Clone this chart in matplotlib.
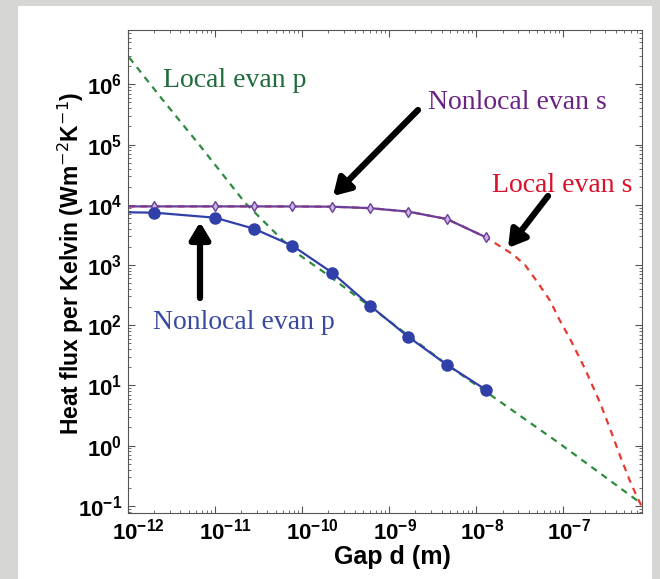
import numpy as np
import matplotlib.pyplot as plt
from matplotlib.patches import Rectangle
from matplotlib.transforms import ScaledTranslation

W, H = 660, 579

# gap positions (m) of the computed nonlocal points (first one is the axis edge, no marker)
gap_pts = [1.0e-12, 2.0e-12, 1.0e-11, 2.8e-11, 7.7e-11, 2.2e-10, 6.0e-10, 1.66e-9, 4.6e-9, 1.3e-8]

# nonlocal evanescent p (blue circles)
nonlocal_p = [7500, 7400, 6100, 4000, 2100, 750, 212, 64, 22, 8.4]
# nonlocal evanescent s (purple diamonds)
nonlocal_s = [9400, 9400, 9400, 9400, 9380, 9300, 8800, 7700, 5800, 2870]

# local evanescent s (red dashed), continues beyond the nonlocal points
local_s_x = [1.0e-12, 2.0e-12, 1.0e-11, 2.8e-11, 7.7e-11, 2.2e-10, 6.0e-10, 1.66e-9, 4.6e-9,
             1.3e-8, 1.87e-8, 2.64e-8, 3.63e-8, 4.98e-8, 7.03e-8, 9.14e-8, 1.19e-7, 1.77e-7,
             2.64e-7, 3.44e-7, 4.48e-7, 5.82e-7, 7.02e-7, 8.0e-7]
local_s = [9400, 9400, 9400, 9400, 9380, 9300, 8800, 7700, 5800,
           2870, 2050, 1500, 1000, 531, 256, 119, 59.8, 18.9,
           5.14, 1.9, 0.675, 0.259, 0.140, 0.0957]

# local evanescent p (green dashed)
local_p_x = [1.03e-12, 2.52e-12, 6.71e-12, 2.21e-11, 7.86e-11, 2.09e-10, 6.01e-10,
             4.61e-9, 1.56e-8, 9.16e-8, 8.0e-7]
local_p = [2.8e6, 5.47e5, 9.6e4, 1.08e4, 1740, 643, 204, 22.1, 6.47, 1.07, 0.107]


def fpx(x, y):
    # reference pixel (from top-left) -> figure fraction
    return x / W, 1 - y / H


fig = plt.figure(figsize=(W / 100, H / 100), dpi=100, facecolor="#d6d6d4")
fig.add_artist(Rectangle((18 / W, 0), 634 / W, 573 / H, transform=fig.transFigure,
                         facecolor="white", edgecolor="none", zorder=-5))

left, top, right, bottom = 128, 30, 642, 513
ax = fig.add_axes([left / W, 1 - bottom / H, (right - left) / W, (bottom - top) / H])
ax.set_xscale("log")
ax.set_yscale("log")

ax.plot(local_p_x, local_p, linestyle=(0, (3, 2.6)), color="#2e8b3e", lw=1.6)
ax.plot(local_s_x, local_s, linestyle=(0, (3, 2.6)), color="#e8392f", lw=1.6)
marks = list(range(1, len(gap_pts)))
ax.plot(gap_pts, nonlocal_s, "-d", color="#6a3d9a", lw=1.6, ms=5, mfc="#c9b6e0",
        mec="#6a3d9a", markevery=marks)
ax.plot(gap_pts, nonlocal_p, "-o", color="#3040a8", lw=1.6, ms=8, mfc="#3040a8",
        mec="#3040a8", markevery=marks)

ax.set_xlim(1e-12, 8e-7)
ax.set_ylim(0.076, 8e6)
ax.set_xticks([1e-12, 1e-11, 1e-10, 1e-9, 1e-8, 1e-7])
ax.set_yticks([1e-1, 1e0, 1e1, 1e2, 1e3, 1e4, 1e5, 1e6])

ax.tick_params(which="both", direction="in", top=True, right=True, color="#555555")
ax.tick_params(which="major", length=5, labelsize=16)
ax.tick_params(axis="x", which="major", pad=4)
ax.tick_params(axis="y", which="major", pad=4)
ax.tick_params(which="minor", length=2.5)
for lab in ax.get_xticklabels() + ax.get_yticklabels():
    lab.set_fontweight("bold")
    lab.set_family("Liberation Sans")
# MATLAB style: the "10" sits near the tick, exponent hangs to the right
shift = ScaledTranslation(-0.16, 0, fig.dpi_scale_trans)
for lab in ax.get_xticklabels():
    lab.set_ha("left")
    lab.set_transform(lab.get_transform() + shift)
for s in ax.spines.values():
    s.set_color("#555555")

ax.set_xlabel("Gap d (m)", fontsize=18, fontweight="bold", family="Liberation Sans")
ax.xaxis.set_label_coords(0.514, -0.066)
ax.set_ylabel("Heat flux per Kelvin (Wm$^{-2}$K$^{-1}$)", fontsize=16.5, fontweight="bold",
              family="Liberation Sans")
ax.yaxis.set_label_coords(-0.082, 0.516)

serif = "Liberation Serif"
labels = [("Local evan p", 163, 87, "#1f6b3a"),
          ("Nonlocal evan s", 428, 109, "#6a2283"),
          ("Local evan s", 492, 192, "#d8102c"),
          ("Nonlocal evan p", 153, 329, "#3a4aa0")]
for txt, x, y, col in labels:
    fig.text(*fpx(x, y), txt, color=col, fontsize=20, family=serif,
             ha="left", va="baseline")

arrow = dict(arrowstyle="-|>,head_length=1.0,head_width=0.6", color="black", lw=4.5,
             shrinkA=0, shrinkB=0)
arrows = [((333, 196), (418, 110)),
          ((508, 248), (548, 196)),
          ((200, 222), (200, 298))]
for tip, tail in arrows:
    ax.annotate("", xy=fpx(*tip), xytext=fpx(*tail), xycoords="figure fraction",
                arrowprops=arrow)

fig.savefig("out.png", dpi=100, facecolor=fig.get_facecolor())
